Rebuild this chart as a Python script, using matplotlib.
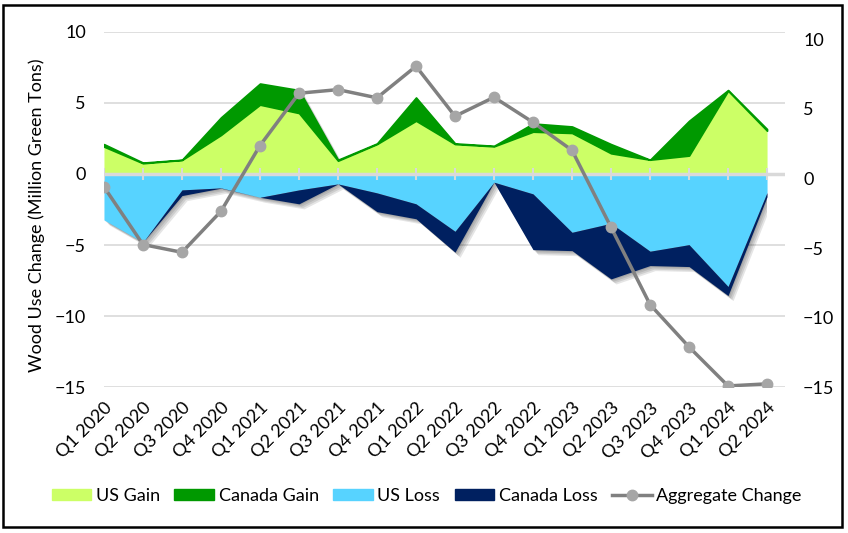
import numpy as np
import matplotlib
matplotlib.use("Agg")
import matplotlib.pyplot as plt
import matplotlib.patheffects as pe
from matplotlib.patches import Patch, Rectangle
from matplotlib.lines import Line2D

plt.rcParams['font.family'] = ['Lato', 'DejaVu Sans']

quarters = ["Q1 2020", "Q2 2020", "Q3 2020", "Q4 2020",
            "Q1 2021", "Q2 2021", "Q3 2021", "Q4 2021",
            "Q1 2022", "Q2 2022", "Q3 2022", "Q4 2022",
            "Q1 2023", "Q2 2023", "Q3 2023", "Q4 2023",
            "Q1 2024", "Q2 2024"]

# million green tons
us_gain = [1.92, 0.75, 0.98, 2.74, 4.87, 4.28, 0.93, 2.10, 3.74, 2.10,
           1.94, 2.97, 2.88, 1.45, 1.00, 1.29, 5.85, 3.04]
canada_gain = [0.18, 0.05, 0.02, 1.24, 1.49, 1.62, 0.07, 0.05, 1.64, 0.05,
               0.04, 0.58, 0.46, 0.65, 0.00, 2.45, 0.05, 0.12]
us_loss = [-3.23, -4.80, -1.12, -0.98, -1.64, -1.12, -0.70, -1.33, -2.10, -4.03,
           -0.58, -1.40, -4.10, -3.47, -5.43, -4.97, -7.91, -1.30]
canada_loss = [0.00, 0.00, -0.40, -0.02, 0.00, -0.98, 0.00, -1.32, -1.05, -1.47,
               0.00, -3.92, -1.29, -3.91, -1.01, -1.54, -0.64, -0.30]
aggregate = [-0.60, -4.74, -5.30, -2.35, 2.37, 6.13, 6.39, 5.80, 8.07, 4.48,
             5.84, 4.04, 2.03, -3.50, -9.05, -12.10, -14.90, -14.75]

c_us_gain = '#CCFF66'
c_ca_gain = '#009900'
c_us_loss = '#57D3FF'
c_ca_loss = '#002060'
c_line = '#808080'
c_marker = '#A6A6A6'
c_grid = '#D9D9D9'

x = np.arange(len(quarters))
us_gain = np.array(us_gain)
canada_gain = np.array(canada_gain)
us_loss = np.array(us_loss)
canada_loss = np.array(canada_loss)
gain_top = us_gain + canada_gain
loss_bot = us_loss + canada_loss

fig = plt.figure(figsize=(8.48, 5.33), dpi=100)
ax = fig.add_axes([0.1226, 0.2733, 0.8031, 0.6672])

# soft drop shadow under the whole stacked shape, cut at the last quarter
shadow = [pe.SimplePatchShadow(offset=(o, -o), shadow_rgbFace='black', alpha=0.1)
          for o in (1, 2, 3, 4)]
shp = ax.fill_between(x, loss_bot, gain_top, color='white', path_effects=shadow, zorder=1)
clip = Rectangle((x[0], -15), x[-1] - x[0], 25, transform=ax.transData)
shp.set_clip_path(clip)

ax.fill_between(x, 0, us_gain, color=c_us_gain, lw=0, zorder=2)
ax.fill_between(x, us_gain, gain_top, facecolor=c_ca_gain, edgecolor=c_ca_gain,
                lw=1.2, zorder=2)
ax.fill_between(x, 0, us_loss, color=c_us_loss, lw=0, zorder=2)
ax.fill_between(x, us_loss, loss_bot, color=c_ca_loss, lw=0, zorder=2)

ax.set_ylim(-15, 10)
ax.set_xlim(0, 17.46)
ax.set_yticks([-15, -10, -5, 0, 5, 10])
ax.yaxis.grid(True, color=c_grid, lw=1.2, zorder=0)
ax.set_axisbelow(True)
ax.axhline(0, color=c_grid, lw=2.5, zorder=3)
ax.plot(x, np.zeros(len(x)), ls='', marker='|', ms=9, mew=1.5, color=c_grid, zorder=3)

for s in ax.spines.values():
    s.set_visible(False)
ax.tick_params(axis='y', length=0, pad=13, labelsize=13)
ax.tick_params(axis='x', length=0, pad=9, labelsize=13)
ax.set_xticks(x)
ax.set_xticklabels(quarters, rotation=45, ha='right', rotation_mode='anchor')
ax.set_ylabel("Wood Use Change (Million Green Tons)", fontsize=13)
ax.yaxis.set_label_coords(-0.086, 0.485)

ax2 = ax.twinx()
ax2.plot(x, aggregate, color=c_line, lw=2.5, marker='o', ms=7.5,
         mfc=c_marker, mec=c_marker, zorder=5)
ax2.set_ylim(-15, 10.55)
ax2.set_yticks([-15, -10, -5, 0, 5, 10])
for s in ax2.spines.values():
    s.set_visible(False)
ax2.tick_params(axis='y', length=0, pad=13, labelsize=13)

handles = [Patch(color=c_us_gain, label='US Gain'),
           Patch(color=c_ca_gain, label='Canada Gain'),
           Patch(color=c_us_loss, label='US Loss'),
           Patch(color=c_ca_loss, label='Canada Loss'),
           Line2D([], [], color=c_line, lw=2.5, marker='o', ms=7.5,
                  mfc=c_marker, mec=c_marker, label='Aggregate Change')]
fig.legend(handles=handles, loc='center', bbox_to_anchor=(0.503, 0.069), ncol=5,
           frameon=False, fontsize=13, handlelength=2.2, handleheight=0.55,
           handletextpad=0.25, columnspacing=0.8)

fig.patches.append(Rectangle((0.0035, 0.011), 0.989, 0.979, transform=fig.transFigure,
                             fill=False, edgecolor='black', lw=1.8))

fig.savefig("out.png", dpi=100)
